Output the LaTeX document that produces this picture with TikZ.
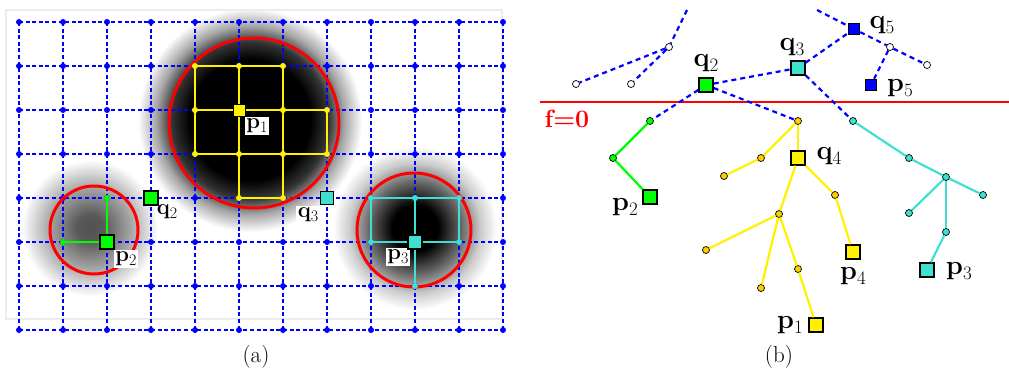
\documentclass[tikz,border=0pt]{standalone}
\usepackage{graphicx}
\definecolor{tq}{HTML}{40E0D0}
\definecolor{gr}{HTML}{00FF00}
\definecolor{gd}{HTML}{FFCC00}
\definecolor{fr}{HTML}{ECECEC}
\newcommand\rlab[2]{\textbf{#1}\raisebox{-5pt}{\fontsize{19}{20}\selectfont #2}}
\newcommand\llab[2]{\textbf{#1}\raisebox{-4pt}{\fontsize{16}{17}\selectfont #2}}
\pgfdeclareradialshading{blobA}{\pgfpoint{0bp}{0bp}}{color(0bp)=(black); color(13.5bp)=(black); color(17.5bp)=(black!80); color(21bp)=(black!35); color(25bp)=(white); color(50bp)=(white)}
\pgfdeclareradialshading{blobB}{\pgfpoint{0bp}{0bp}}{color(0bp)=(black!68); color(5bp)=(black!65); color(15bp)=(black!35); color(25bp)=(white); color(50bp)=(white)}
\pgfdeclareradialshading{blobC}{\pgfpoint{0bp}{0bp}}{color(0bp)=(black); color(7bp)=(black); color(14bp)=(black!60); color(20bp)=(black!20); color(25bp)=(white); color(50bp)=(white)}
\begin{document}
\begin{tikzpicture}[x=1pt,y=-1pt,
  bgrid/.style={blue, line width=1.8pt, dash pattern=on 4pt off 2.6pt},
  sq/.style={rectangle, draw=black, line width=1.4pt, minimum size=14pt, inner sep=0pt},
  ssq/.style={sq, minimum size=11pt},
  rdot/.style={circle, draw=black, line width=0.7pt, minimum size=7pt, inner sep=0pt},
  rl/.style={font=\fontsize{27}{30}\selectfont, inner sep=0pt},
  ll/.style={font=\fontsize{22}{24}\selectfont, fill=white, inner sep=1.5pt},
  dl/.style={blue, line width=2.2pt, dash pattern=on 5pt off 4pt},
  tl/.style={line width=2.2pt},
  rc/.style={red, line width=3pt},
  captxt/.style={font=\fontsize{23}{26}\selectfont}]
\useasboundingbox (0,0) rectangle (1009,372);
% ---------- panel (a) ----------
\begin{scope}
  \clip (6,10) rectangle (502,319);
  \shade[shading=blobA] (250,120) circle (112pt);
  \shade[shading=blobB] (90,228) circle (68pt);
  \shade[shading=blobC] (415,228) circle (82pt);
\end{scope}
\draw[fr, line width=2pt] (6,10) rectangle (502,319);
\foreach \x in {19,63,...,503} \draw[bgrid] (\x,22) -- (\x,330);
\foreach \y in {22,66,...,330} \draw[bgrid] (19,\y) -- (503,\y);
\foreach \x in {19,63,...,503} \foreach \y in {22,66,...,330} \fill[blue] (\x,\y) circle (3pt);
\draw[rc] (254,123) circle (85pt);
\draw[rc] (94,230) circle (44pt);
\draw[rc] (414,230) circle (57pt);
% yellow sub-grid
\draw[yellow, line width=2pt] (195,66) -- (283,66) (195,110) -- (327,110) (195,154) -- (327,154) (239,198) -- (283,198)
  (195,66) -- (195,154) (239,66) -- (239,198) (283,66) -- (283,198) (327,110) -- (327,154);
\foreach \p in {(195,66),(239,66),(283,66),(195,110),(283,110),(327,110),(195,154),(239,154),(283,154),(327,154),(239,198),(283,198)}
  \fill[yellow] \p circle (3pt);
% cyan sub-grid
\draw[tq, line width=1.6pt] (371,198) rectangle (459,242) (415,198) -- (415,286);
\foreach \p in {(371,198),(415,198),(459,198),(371,242),(459,242),(415,286)}
  \fill[tq] \p circle (3pt);
% green
\draw[gr, line width=1.6pt] (63,242) -- (107,242) (107,198) -- (107,242);
\foreach \p in {(63,242),(107,198)} \fill[gr] \p circle (3pt);
% labels (a)
\node[ll] (lap1) at (257,126) {\llab{p}{1}};
\node[ll] (laq2) at (167,212) {\llab{q}{2}};
\node[ll] (lap2) at (126,259) {\llab{p}{2}};
\node[ll] (laq3) at (308,215) {\llab{q}{3}};
\node[ll] (lap3) at (398,257) {\llab{p}{3}};
% squares (a)
\node[sq, fill=yellow, minimum size=12pt, line width=1pt] (ap1) at (239,110) {};
\node[sq, fill=gr] (aq2) at (151,198) {};
\node[sq, fill=gr] (ap2) at (107,242) {};
\node[sq, fill=tq, minimum size=13pt] (aq3) at (327,198) {};
\node[sq, fill=tq] (ap3) at (415,242) {};
\node[captxt] (capa) at (256,357) {(a)};
% ---------- panel (b) ----------
\coordinate (fl) at (540,102);
\coordinate (frr) at (1009,102);
\draw[red, line width=2.6pt] (fl) -- (frr);
\node[red, font=\fontsize{25}{28}\selectfont\bfseries, inner sep=0pt] (f0) at (567,119) {f=0};
\coordinate (t1) at (687,10);
\coordinate (t2) at (817,10);
\node[rdot, fill=white] (h1) at (669,47) {};
\node[rdot, fill=white] (h2) at (576,84) {};
\node[rdot, fill=white] (h3) at (631,84) {};
\node[rdot, fill=white] (h4) at (890,47) {};
\node[rdot, fill=white] (h5) at (927,65) {};
\node[rdot, fill=gr] (g1) at (650,121) {};
\node[rdot, fill=gr] (g2) at (613,158) {};
\node[rdot, fill=gd] (y1) at (798,121) {};
\node[rdot, fill=gd] (y2) at (761,158) {};
\node[rdot, fill=gd] (y3) at (724,176) {};
\node[rdot, fill=gd] (y4) at (835,195) {};
\node[rdot, fill=gd] (y5) at (779,214) {};
\node[rdot, fill=gd] (y6) at (706,250) {};
\node[rdot, fill=gd] (y7) at (761,288) {};
\node[rdot, fill=gd] (y8) at (798,269) {};
\node[rdot, fill=tq] (c1) at (853,121) {};
\node[rdot, fill=tq] (c2) at (909,158) {};
\node[rdot, fill=tq] (c3) at (946,177) {};
\node[rdot, fill=tq] (c4) at (909,213) {};
\node[rdot, fill=tq] (c5) at (983,195) {};
\node[rdot, fill=tq] (c6) at (946,232) {};
\node[sq, fill=gr] (q2) at (706,85) {};
\node[sq, fill=tq] (q3) at (798,68) {};
\node[ssq, fill=blue] (q5) at (854,29) {};
\node[ssq, fill=blue] (p5) at (871,85) {};
\node[sq, fill=yellow] (q4) at (798,158) {};
\node[sq, fill=gr] (p2) at (650,197) {};
\node[sq, fill=yellow] (p4) at (853,252) {};
\node[sq, fill=yellow] (p1) at (816,325) {};
\node[sq, fill=tq] (p3) at (927,270) {};
% dashed edges
\draw[dl] (t1) -- (h1);
\draw[dl] (h1) -- (h2);
\draw[dl] (h1) -- (h3);
\draw[dl] (q2) -- (g1);
\draw[dl] (q2) -- (q3);
\draw[dl] (q2) -- (y1);
\draw[dl] (q3) -- (q5);
\draw[dl] (q3) -- (c1);
\draw[dl] (t2) -- (q5);
\draw[dl] (q5) -- (h4);
\draw[dl] (h4) -- (h5);
\draw[dl] (h4) -- (p5);
% tree edges
\draw[tl, gr] (g1) -- (g2);
\draw[tl, gr] (g2) -- (p2);
\draw[tl, yellow] (y1) -- (y2);
\draw[tl, yellow] (y2) -- (y3);
\draw[tl, yellow] (y1) -- (q4);
\draw[tl, yellow] (q4) -- (y4);
\draw[tl, yellow] (y4) -- (p4);
\draw[tl, yellow] (q4) -- (y5);
\draw[tl, yellow] (y5) -- (y6);
\draw[tl, yellow] (y5) -- (y7);
\draw[tl, yellow] (y5) -- (y8);
\draw[tl, yellow] (y8) -- (p1);
\draw[tl, tq] (c1) -- (c2);
\draw[tl, tq] (c2) -- (c3);
\draw[tl, tq] (c3) -- (c4);
\draw[tl, tq] (c3) -- (c5);
\draw[tl, tq] (c3) -- (c6);
\draw[tl, tq] (c6) -- (p3);
% labels (b)
\node[rl] (lq2) at (706,63) {\rlab{q}{2}};
\node[rl] (lq3) at (792,47) {\rlab{q}{3}};
\node[rl] (lq5) at (882,25) {\rlab{q}{5}};
\node[rl] (lp5) at (900,88) {\rlab{p}{5}};
\node[rl] (lq4) at (829,156) {\rlab{q}{4}};
\node[rl] (lp4) at (853,276) {\rlab{p}{4}};
\node[rl] (lp3) at (959,271) {\rlab{p}{3}};
\node[rl] (lp1) at (790,325) {\rlab{p}{1}};
\node[rl] (lp2) at (625,207) {\rlab{p}{2}};
\node[captxt] (capb) at (779,357) {(b)};
\end{tikzpicture}
\end{document}
